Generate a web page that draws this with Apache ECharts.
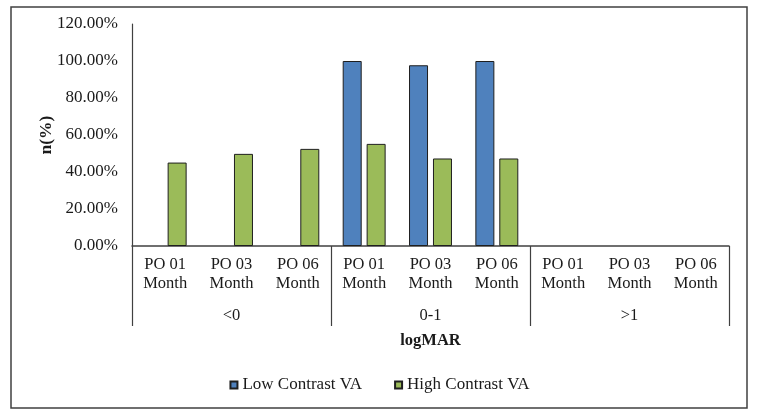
<!DOCTYPE html>
<html>
<head>
<meta charset="utf-8">
<script src="https://cdn.jsdelivr.net/npm/echarts@6/dist/echarts.min.js"></script>
<style>
html,body{margin:0;padding:0;background:#fff;}
#chart{width:759px;height:419px;}
</style>
</head>
<body>
<div id="chart"></div>
<script>
// Data
var subCategories = ['PO 01\nMonth','PO 03\nMonth','PO 06\nMonth','PO 01\nMonth','PO 03\nMonth','PO 06\nMonth','PO 01\nMonth','PO 03\nMonth','PO 06\nMonth'];
var groupCategories = ['<0','0-1','>1'];
var lowContrastVA = [0, 0, 0, 100, 97.7, 100, 0, 0, 0];
var highContrastVA = [45.1, 49.8, 52.5, 55.2, 47.3, 47.3, 0, 0, 0];
var seriesNames = ['Low Contrast VA', 'High Contrast VA'];
var yTicks = [0, 20, 40, 60, 80, 100, 120];

var font = '"Liberation Serif", "Times New Roman", serif';
var textColor = '#1a1a1a';
var lineColor = '#404040';

// zero-height bars are not drawn (as in the original)
function hideZero(arr) { return arr.map(function (v) { return v === 0 ? null : v; }); }

var chart = echarts.init(document.getElementById('chart'), null, {renderer: 'canvas'});
chart.setOption({
  animation: false,
  backgroundColor: '#fff',
  graphic: [{
    type: 'rect',
    shape: {x: 11, y: 7, width: 736, height: 401},
    style: {fill: 'none', stroke: lineColor, lineWidth: 1.5},
    silent: true,
    z: -1
  }],
  grid: {left: 132, right: 30, top: 24, bottom: 173, containLabel: false},
  legend: {
    data: seriesNames,
    left: 'center',
    top: 371,
    icon: 'rect',
    itemWidth: 7,
    itemHeight: 7,
    itemGap: 32,
    textStyle: {fontFamily: font, fontSize: 17, color: textColor, lineHeight: 18}
  },
  xAxis: [{
    type: 'category',
    data: subCategories,
    position: 'bottom',
    axisLine: {show: true, lineStyle: {color: lineColor, width: 1.5}},
    axisTick: {show: false},
    axisLabel: {interval: 0, margin: 9, fontFamily: font, fontSize: 16.5, lineHeight: 19, color: textColor}
  }, {
    type: 'category',
    data: groupCategories,
    position: 'bottom',
    axisLine: {show: false},
    axisTick: {show: true, interval: 0, length: 80, lineStyle: {color: lineColor, width: 1.2}},
    axisLabel: {interval: 0, margin: 60, fontFamily: font, fontSize: 16.5, lineHeight: 19, color: textColor},
    name: 'logMAR',
    nameLocation: 'middle',
    nameGap: 86,
    nameMoveOverlap: false,
    nameTextStyle: {fontFamily: font, fontSize: 16.5, fontWeight: 'bold', color: textColor}
  }],
  yAxis: {
    type: 'value',
    min: yTicks[0],
    max: yTicks[yTicks.length - 1],
    interval: 20,
    axisLine: {show: true, lineStyle: {color: lineColor, width: 1.2}},
    axisTick: {show: false},
    splitLine: {show: false},
    axisLabel: {
      margin: 14,
      fontFamily: font, fontSize: 17, color: textColor,
      formatter: function (v) { return v.toFixed(2) + '%'; }
    },
    name: 'n(%)',
    nameLocation: 'middle',
    nameGap: 77,
    nameMoveOverlap: false,
    nameRotate: 90,
    nameTextStyle: {fontFamily: font, fontSize: 17.5, fontWeight: 'bold', color: textColor}
  },
  series: [{
    name: seriesNames[0],
    type: 'bar',
    xAxisIndex: 0,
    data: hideZero(lowContrastVA),
    barWidth: 19,
    barGap: '26%',
    itemStyle: {color: '#4F81BD', borderColor: '#1f1f1f', borderWidth: 1}
  }, {
    name: seriesNames[1],
    type: 'bar',
    xAxisIndex: 0,
    data: hideZero(highContrastVA),
    barWidth: 19,
    barGap: '26%',
    itemStyle: {color: '#9BBB59', borderColor: '#1f1f1f', borderWidth: 1}
  }]
});
</script>
</body>
</html>
